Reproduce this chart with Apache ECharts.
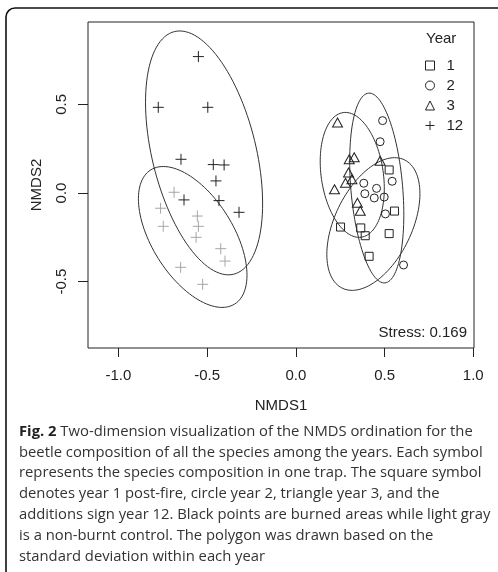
<!DOCTYPE html>
<html><head><meta charset="utf-8">
<script src="https://cdn.jsdelivr.net/npm/echarts@6/dist/echarts.min.js"></script>
<style>html,body{margin:0;padding:0;background:#fff}#c{width:498px;height:572px}</style>
</head><body><div id="c"></div>
<script>
// ---- data ----
const xTicks = [-1.0, -0.5, 0.0, 0.5, 1.0];
const yTicks = [-0.5, 0.0, 0.5];
const xRange = [-1.171, 1.004];
const yRange = [-0.874, 0.964];
const legendNames = ['1', '2', '3', '12'];

const year1 = [[0.526,0.130],[0.556,-0.102],[0.252,-0.192],[0.366,-0.197],[0.391,-0.241],[0.526,-0.229],[0.413,-0.357]];
const year2 = [[0.489,0.408],[0.475,0.289],[0.383,0.055],[0.455,0.026],[0.543,0.066],[0.389,-0.004],[0.442,-0.028],[0.498,-0.023],[0.505,-0.118],[0.607,-0.406]];
const year3 = [[0.235,0.397],[0.301,0.190],[0.329,0.201],[0.475,0.182],[0.297,0.115],[0.316,0.077],[0.280,0.058],[0.218,0.021],[0.347,-0.055],[0.363,-0.100]];
const year12Burned = [[-0.549,0.769],[-0.775,0.483],[-0.496,0.483],[-0.647,0.190],[-0.465,0.160],[-0.404,0.158],[-0.450,0.068],[-0.630,-0.039],[-0.433,-0.043],[-0.320,-0.109]];
const year12Control = [[-0.686,0.004],[-0.762,-0.086],[-0.747,-0.188],[-0.555,-0.130],[-0.549,-0.188],[-0.562,-0.250],[-0.423,-0.314],[-0.399,-0.384],[-0.649,-0.419],[-0.525,-0.515]];

// ellipses: [centerX, centerY, semiMajor, semiMinor, angleDeg]
const ellipseYear1 = [0.437, -0.175, 0.402, 0.217, 64.2];
const ellipseYear2 = [0.456, 0.028, 0.537, 0.146, -85.1];
const ellipseYear3 = [0.318, 0.102, 0.355, 0.175, -81.7];
const ellipseYear12Burned = [-0.517, 0.226, 0.704, 0.293, -76.3];
const ellipseYear12Control = [-0.581, -0.248, 0.446, 0.229, -58.0];

const stressText = 'Stress: 0.169';
const captionLines = [
  ['Fig. 2', ' Two-dimension visualization of the NMDS ordination for the'],
  ['', 'beetle composition of all the species among the years. Each symbol'],
  ['', 'represents the species composition in one trap. The square symbol'],
  ['', 'denotes year 1 post-fire, circle year 2, triangle year 3, and the'],
  ['', 'additions sign year 12. Black points are burned areas while light gray'],
  ['', 'is a non-burnt control. The polygon was drawn based on the'],
  ['', 'standard deviation within each year']
];

// ---- chart ----
const chart = echarts.init(document.getElementById('c'), null, {renderer: 'canvas'});
const FONT = 'Liberation Sans, Arial, sans-serif';
const INK = '#222';
const plusPath = 'path://M0,5L10,5M5,0L5,10';

function ptSeries(name, data, symbol, size, color) {
  return {
    type: 'scatter', name: name, data: data, symbol: symbol, symbolSize: size,
    itemStyle: {color: 'rgba(0,0,0,0)', borderColor: color, borderWidth: 1, opacity: 1},
    emphasis: {disabled: true}, z: 3
  };
}

const ellipses = [ellipseYear1, ellipseYear2, ellipseYear3, ellipseYear12Burned, ellipseYear12Control];

const graphics = [
  {type: 'rect', shape: {x: 6, y: 8, width: 540, height: 620, r: 9}, style: {fill: 'none', stroke: '#111', lineWidth: 1.6}, z: 10},
  {type: 'text', left: 426, top: 31, style: {text: 'Year', font: '15px ' + FONT, fill: INK}},
  {type: 'text', right: 31, top: 325, style: {text: stressText, font: '15px ' + FONT, fill: INK, align: 'right'}}
];
captionLines.forEach((ln, i) => {
  graphics.push({
    type: 'text', left: 19, top: 424 + i * 20.8,
    style: {
      text: (ln[0] ? '{b|' + ln[0] + '}' : '') + '{n|' + ln[1] + '}',
      rich: {
        b: {font: 'bold 14.8px "Open Sans", sans-serif', fill: '#222'},
        n: {font: '14.8px "Open Sans", sans-serif', fill: '#333'}
      }
    }
  });
});

const option = {
  backgroundColor: '#fff',
  animation: false,
  grid: {left: 88, right: 24, top: 22, bottom: 224, show: true, borderColor: INK, borderWidth: 1, backgroundColor: 'transparent'},
  xAxis: {
    type: 'value', min: xRange[0], max: xRange[1],
    name: 'NMDS1', nameLocation: 'middle', nameGap: 50,
    nameTextStyle: {fontFamily: FONT, fontSize: 15, color: INK},
    axisLine: {show: false, onZero: false},
    axisTick: {show: true, inside: false, length: 9, lineStyle: {color: INK}, customValues: xTicks},
    axisLabel: {fontFamily: FONT, fontSize: 15, color: INK, margin: 20, customValues: xTicks, formatter: v => v.toFixed(1)},
    splitLine: {show: false}
  },
  yAxis: {
    type: 'value', min: yRange[0], max: yRange[1],
    name: 'NMDS2', nameLocation: 'middle', nameGap: 44, nameRotate: 90,
    nameTextStyle: {fontFamily: FONT, fontSize: 15, color: INK},
    axisLine: {show: false, onZero: false},
    axisTick: {show: true, inside: false, length: 10, lineStyle: {color: INK}, customValues: yTicks},
    axisLabel: {fontFamily: FONT, fontSize: 15, color: INK, margin: 19, rotate: 90, customValues: yTicks, formatter: v => v.toFixed(1)},
    splitLine: {show: false}
  },
  legend: {
    show: true, orient: 'vertical', left: 420, top: 53,
    data: legendNames, itemWidth: 9, itemHeight: 9, itemGap: 5,
    itemStyle: {borderWidth: 1},
    textStyle: {fontFamily: FONT, fontSize: 15, color: INK, lineHeight: 15, padding: [0, 0, 0, 7]},
    selectedMode: false
  },
  graphic: graphics,
  series: [
    ptSeries('1', year1, 'rect', 8, INK),
    ptSeries('2', year2, 'circle', 8, INK),
    ptSeries('3', year3, 'triangle', [10, 9], INK),
    ptSeries('12', year12Burned, plusPath, 11, INK),
    ptSeries('12 control', year12Control, plusPath, 11, '#a6a6a6'),
    {
      type: 'custom', name: 'ellipses', data: ellipses, silent: true,
      dimensions: ['cx', 'cy', 'a', 'b', 'ang'],
      encode: {x: 0, y: 1},
      renderItem: function (params, api) {
        const cx = api.value(0), cy = api.value(1), a = api.value(2), b = api.value(3);
        const th = api.value(4) * Math.PI / 180;
        const pts = [];
        for (let k = 0; k < 120; k++) {
          const t = k / 120 * 2 * Math.PI;
          const x = cx + a * Math.cos(th) * Math.cos(t) - b * Math.sin(th) * Math.sin(t);
          const y = cy + a * Math.sin(th) * Math.cos(t) + b * Math.cos(th) * Math.sin(t);
          pts.push(api.coord([x, y]));
        }
        return {type: 'polygon', shape: {points: pts}, style: {fill: 'none', stroke: '#333', lineWidth: 1}};
      },
      z: 2
    }
  ]
};
chart.setOption(option);
</script></body></html>
